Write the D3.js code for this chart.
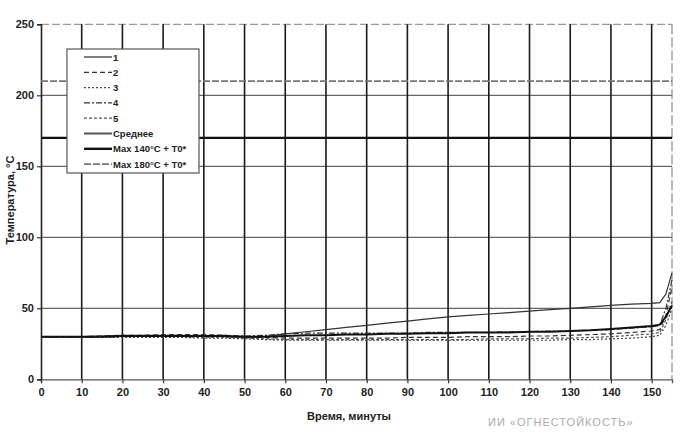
<!DOCTYPE html>
<html><head><meta charset="utf-8">
<script src="https://cdn.jsdelivr.net/npm/d3@7"></script>
<style>body{margin:0;background:#fff}svg{display:block}text{font-family:"Liberation Sans",Arial,sans-serif}</style>
</head><body><svg id="c" width="689" height="434"></svg>
<script>
const times = [0,5,10,15,20,25,30,35,40,45,50,55,60,65,70,75,80,85,90,95,100,105,110,115,120,125,130,135,140,145,150,152,153.5,155];
const s1 = [30,30,30,30.5,31,31,31,31,30.5,30,29.5,30,32,33.5,35,36.5,38,39.5,41,42.5,44,45,46,47,48,49,50,51,52,53,53.5,54,60,75];
const s2 = [30,30,30,30.5,31,31,31.5,31.5,31.5,31,30,29.5,29,29,29,29,29,29,29.5,29.5,29.5,30,30,30,30.5,30.5,31,31.5,32,33,34,35,45,65];
const s3 = [29.5,29.5,29.5,29.5,29.5,29.5,29.5,29.5,29,29,28.5,28,27.5,27.5,27.5,27.5,27.5,27.5,27.5,27.5,27.5,27.5,27.5,27.5,27.5,27.5,28,28,28.5,29,30,31,38,50];
const s4 = [30,30,30,30,30.5,30.5,30.5,31,31,31,30.5,31,32,32.5,32.5,32.5,32.5,32.5,32.5,33,33,33,33,33.5,33.5,34,34,34.5,35,36,37,38,50,70];
const s5 = [29.5,29.5,29.5,29.5,30,30,30,30,29.5,29.5,29,28.5,28,28,28,28,28,28,28,28,28,28,28.5,28.5,28.5,29,29,29.5,30,31,32,33,42,55];
const avg = [30,30,30,30,30.5,30.5,30.5,30.5,30.5,30.5,30,30,30.5,31,31,31.5,31.5,32,32,32.5,32.5,33,33,33,33.5,33.5,34,34.5,35.5,36.5,37.5,38.5,44,52];
const maxLines = [{label:"Max 140°C + T0*", value:170},{label:"Max 180°C + T0*", value:210}];
const xTicks = [0,10,20,30,40,50,60,70,80,90,100,110,120,130,140,150];
const yTicks = [0,50,100,150,200,250];
const legendLabels = ["1","2","3","4","5","Среднее","Max 140°C + T0*","Max 180°C + T0*"];

const svg = d3.select("#c");
const x = d3.scaleLinear().domain([0,155]).range([41,672]);
const y = d3.scaleLinear().domain([0,250]).range([379.3,24.3]);

// horizontal gridlines
svg.append("g").selectAll("line").data(yTicks.filter(v=>v>0&&v<250)).join("line")
  .attr("x1",x(0)).attr("x2",x(155)).attr("y1",d=>y(d)).attr("y2",d=>y(d))
  .attr("stroke","#666").attr("stroke-width",1.3);
// top border dashed
svg.append("line").attr("x1",x(0)).attr("x2",x(155)).attr("y1",y(250)).attr("y2",y(250))
  .attr("stroke","#999").attr("stroke-width",1.3).attr("stroke-dasharray","8,3");
// right border
svg.append("line").attr("x1",x(155)).attr("x2",x(155)).attr("y1",y(250)).attr("y2",y(0))
  .attr("stroke","#888").attr("stroke-width",1.2).attr("stroke-dasharray","10,3");
// vertical gridlines
svg.append("g").selectAll("line").data(xTicks.filter(v=>v>0)).join("line")
  .attr("x1",d=>x(d)).attr("x2",d=>x(d)).attr("y1",y(250)).attr("y2",y(0))
  .attr("stroke","#1a1a1a").attr("stroke-width",1.6);

// axes
const xa = svg.append("g").attr("transform",`translate(0,${y(0)})`)
  .call(d3.axisBottom(x).tickValues(xTicks).tickSize(4).tickPadding(5).tickFormat(d3.format("d")));
xa.select(".domain").attr("stroke","#555").attr("stroke-width",1.3);
const ya = svg.append("g").attr("transform",`translate(${x(0)},0)`)
  .call(d3.axisLeft(y).tickValues(yTicks).tickSize(4).tickPadding(3).tickFormat(d3.format("d")));
ya.select(".domain").attr("stroke","#222").attr("stroke-width",1.6);
svg.selectAll(".tick line").attr("stroke","#333").attr("stroke-width",1.2);
svg.selectAll(".tick text").attr("font-size",11).attr("font-weight","bold").attr("fill","#222")
  .attr("font-family","'Liberation Sans',Arial,sans-serif");

// max lines
svg.append("line").attr("x1",x(0)).attr("x2",x(155)).attr("y1",y(maxLines[0].value)).attr("y2",y(maxLines[0].value))
  .attr("stroke","#111").attr("stroke-width",2.4);
svg.append("line").attr("x1",x(0)).attr("x2",x(155)).attr("y1",y(maxLines[1].value)).attr("y2",y(maxLines[1].value))
  .attr("stroke","#777").attr("stroke-width",1.6).attr("stroke-dasharray","7,2");

const styles = [
  {data:s1, stroke:"#333", w:1.2, dash:null},
  {data:s2, stroke:"#333", w:1.2, dash:"5,3"},
  {data:s3, stroke:"#444", w:1.2, dash:"2,2"},
  {data:s4, stroke:"#333", w:1.2, dash:"6,2,2,2"},
  {data:s5, stroke:"#555", w:1.2, dash:"3,2"},
  {data:avg, stroke:"#111", w:2, dash:null}
];
const line = d3.line().x((d,i)=>x(times[i])).y(d=>y(d));
svg.append("g").selectAll("path").data(styles).join("path")
  .attr("d",d=>line(d.data)).attr("fill","none").attr("stroke",d=>d.stroke)
  .attr("stroke-width",d=>d.w).attr("stroke-dasharray",d=>d.dash);

// axis titles
svg.append("text").attr("x",349).attr("y",420).attr("text-anchor","middle")
  .attr("font-size",11).attr("font-weight","bold").attr("fill","#222").text("Время, минуты");
svg.append("text").attr("transform","translate(14,200) rotate(-90)").attr("text-anchor","middle")
  .attr("font-size",11).attr("font-weight","bold").attr("fill","#222").text("Температура, °С");
svg.append("text").attr("x",488).attr("y",426).attr("font-size",11).attr("fill","#aaa")
  .attr("font-family","'DejaVu Sans Mono',monospace").attr("letter-spacing",1).text("ИИ «ОГНЕСТОЙКОСТЬ»");

// legend
const lg = svg.append("g");
lg.append("rect").attr("x",67).attr("y",49).attr("width",132).attr("height",124)
  .attr("fill","#fff").attr("stroke","#555").attr("stroke-width",1.2);
const legStyles = [
  {stroke:"#555", w:1.5, dash:null},
  {stroke:"#333", w:1.2, dash:"5,3"},
  {stroke:"#444", w:1.2, dash:"2,2"},
  {stroke:"#333", w:1.2, dash:"6,2,2,2"},
  {stroke:"#555", w:1.2, dash:"3,2"},
  {stroke:"#555", w:2, dash:null},
  {stroke:"#111", w:2.4, dash:null},
  {stroke:"#777", w:1.6, dash:"7,2"}
];
const rows = lg.selectAll("g").data(legendLabels).join("g")
  .attr("transform",(d,i)=>`translate(0,${57+i*15.3})`);
rows.append("line").attr("x1",(d,i)=>i<6?84:84).attr("x2",112).attr("y1",0).attr("y2",0)
  .attr("stroke",(d,i)=>legStyles[i].stroke).attr("stroke-width",(d,i)=>legStyles[i].w)
  .attr("stroke-dasharray",(d,i)=>legStyles[i].dash);
rows.append("text").attr("x",113).attr("y",3.5).attr("font-size",9.5).attr("font-weight","bold")
  .attr("fill","#222").text(d=>d);
</script></body></html>
